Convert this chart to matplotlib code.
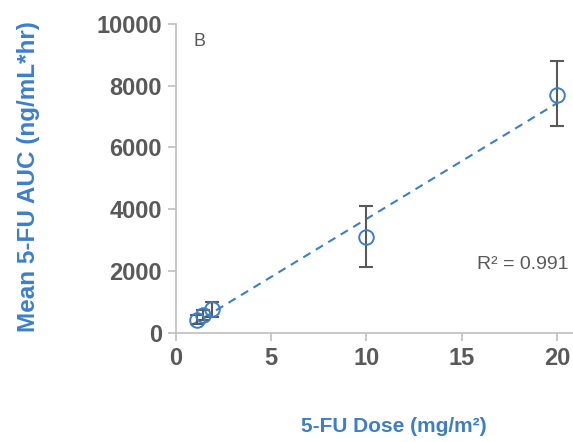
import numpy as np
import matplotlib
matplotlib.use("Agg")
import matplotlib.pyplot as plt

# Data
dose = [1.1, 1.4, 1.9, 10.0, 20.0]
auc = [420, 580, 780, 3100, 7700]
err_lo = [150, 150, 260, 960, 1000]
err_hi = [150, 150, 220, 990, 1100]
r2_text = "R² = 0.991"
xticks = [0, 5, 10, 15, 20]
yticks = [0, 2000, 4000, 6000, 8000, 10000]

blue = "#3b7fcb"
gray = "#595959"
spine = "#bfbfbf"
font = "Liberation Sans"

fig = plt.figure(figsize=(5.73, 4.42), dpi=100)
ax = fig.add_axes([0.307, 0.247, 0.693, 0.699])

ax.errorbar(dose, auc, yerr=[err_lo, err_hi], fmt="none", ecolor=gray,
            elinewidth=1.5, capsize=5, capthick=1.5, zorder=2)
ax.plot(dose, auc, "o", mfc="none", mec=blue, mew=1.4, ms=10.5, zorder=3)

slope, intercept = np.polyfit(dose, auc, 1)
xl = np.array([min(dose) - 0.3, max(dose)])
ax.plot(xl, slope * xl + intercept, "--", color=blue, lw=1.5, dashes=(4, 3), zorder=1)

ax.set_xlim(0, 20.84)
ax.set_ylim(0, 10000)
ax.set_xticks(xticks)
ax.set_yticks(yticks)
for s in ["top", "right"]:
    ax.spines[s].set_visible(False)
for s in ["left", "bottom"]:
    ax.spines[s].set_color(spine)
    ax.spines[s].set_linewidth(1.2)
ax.tick_params(axis="both", color=spine, width=1.2, length=6,
               labelcolor=gray, labelsize=17, pad=4)
for lab in ax.get_xticklabels() + ax.get_yticklabels():
    lab.set_fontfamily(font)
    lab.set_fontweight("bold")

ax.text(0.9, 9700, "B", color=gray, fontsize=13, family=font,
        va="top", ha="left")
ax.text(15.8, 2200, r2_text, color=gray, fontsize=14, family=font,
        va="center", ha="left")

fig.text(0.049, 0.6, "Mean 5-FU AUC (ng/mL*hr)", rotation=90, color=blue,
         fontsize=17.5, fontweight="bold", family=font,
         ha="center", va="center")
fig.text(0.688, 0.035, "5-FU Dose (mg/m²)", color=blue, fontsize=15,
         fontweight="bold", family=font, ha="center", va="center")

fig.savefig("out.png", dpi=100)
